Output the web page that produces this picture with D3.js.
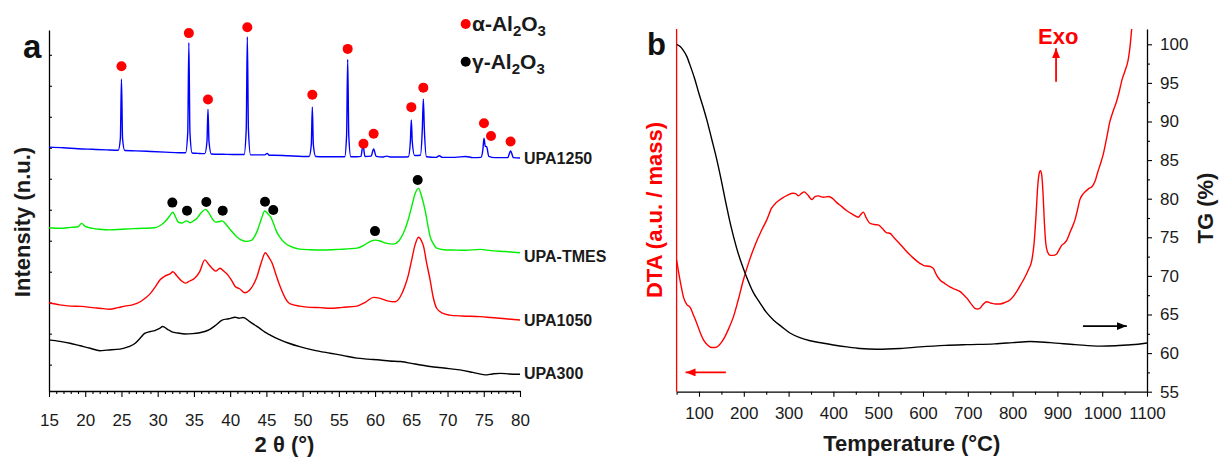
<!DOCTYPE html>
<html><head><meta charset="utf-8">
<script src="https://cdn.jsdelivr.net/npm/d3@7"></script>
<style>
body{margin:0;background:#fff;}
svg{display:block;font-family:"Liberation Sans",Arial,sans-serif;}
</style></head><body>
<svg id="c" width="1220" height="457"></svg>
<script>
// ---------- Panel a : XRD ----------
const xrdUPA1250 = [[15,7.02],[17,7.00],[19,6.97],[21,6.95],[23,6.93],
 [24.55,6.92],[24.85,7.3],[25.0,9.22],[25.15,7.3],[25.45,6.91],
 [27,6.90],[29,6.88],[31,6.86],[33,6.84],
 [33.85,6.84],[34.15,7.5],[34.3,10.39],[34.45,7.5],[34.75,6.83],
 [35.5,6.82],[36.5,6.81],[36.8,7.2],[36.94,8.24],[37.08,7.2],[37.4,6.80],
 [39,6.79],[41,6.78],[41.92,6.78],[42.22,7.6],[42.37,10.58],[42.52,7.6],[42.82,6.77],
 [44,6.77],[44.8,6.77],[45.1,6.82],[45.4,6.76],[46,6.76],[48,6.74],[50,6.72],
 [50.9,6.72],[51.2,7.1],[51.34,8.31],[51.48,7.1],[51.8,6.72],
 [53,6.71],[55,6.71],[55.8,6.71],[56.07,7.4],[56.22,9.85],[56.37,7.4],[56.65,6.71],
 [57.5,6.71],[58.05,6.72],[58.33,7.09],[58.6,6.72],[59.45,6.73],[59.8,6.96],[60.15,6.72],
 [61,6.70],[61.6,6.73],[62.2,6.70],[64,6.70],
 [64.6,6.71],[64.87,7.2],[65.0,7.90],[65.13,7.2],[65.45,6.75],[66.25,6.76],[66.52,7.6],[66.66,8.57],[66.8,7.6],[67.1,6.71],
 [68.4,6.69],[68.86,6.74],[69.3,6.69],[71,6.69],[72.5,6.72],[73.5,6.68],
 [74.6,6.69],[74.88,6.95],[75.03,7.31],[75.2,7.05],[75.4,7.03],[75.7,6.72],[76.5,6.68],
 [78.3,6.68],[78.7,6.90],[79.1,6.68],[80,6.67]];

const xrdUPATMES = [[15,4.42],[16.5,4.40],[18,4.43],[19,4.45],[19.5,4.56],[20,4.46],[21,4.40],[22,4.37],[23.4,4.35],[25,4.37],[26.6,4.39],[28,4.40],[29.6,4.42],[30.4,4.50],[31.0,4.61],[31.6,4.78],[32.07,4.92],[32.5,4.75],[32.8,4.61],[33.3,4.57],[34.0,4.64],[34.46,4.58],[35.0,4.65],[35.4,4.72],[36.0,4.90],[36.6,5.01],[37.1,4.88],[37.5,4.72],[38.0,4.60],[38.5,4.62],[38.9,4.64],[39.3,4.56],[39.7,4.45],[40.3,4.28],[40.9,4.13],[41.5,4.03],[42.2,3.98],[43.0,4.02],[43.4,4.15],[43.8,4.35],[44.3,4.70],[44.77,4.96],[45.2,4.87],[45.6,4.76],[46.0,4.55],[46.3,4.35],[46.9,4.10],[47.6,3.92],[48.5,3.80],[49.6,3.73],[51,3.71],[52.9,3.70],[55,3.72],[57.5,3.76],[58.5,3.86],[59.3,3.97],[60.0,4.02],[60.7,3.99],[61.5,3.92],[62.5,3.89],[63.3,4.0],[63.9,4.24],[64.5,4.62],[65.05,5.10],[65.5,5.50],[66.0,5.69],[66.4,5.45],[66.9,4.99],[67.3,4.48],[67.6,4.13],[68.0,3.92],[68.5,3.76],[69.5,3.71],[70.8,3.70],[72.5,3.69],[74.5,3.72],[76,3.68],[78,3.65],[80,3.61]];

const xrdUPA1050 = [[15,2.00],[16.5,1.93],[17.9,1.89],[19.5,1.88],[21,1.84],[22,1.82],[23.4,1.79],[24.5,1.84],[25.5,1.89],[26.5,1.93],[27.6,2.03],[28.3,2.15],[29.0,2.30],[29.7,2.52],[30.3,2.73],[31.0,2.86],[31.7,2.93],[32.1,3.00],[32.6,2.88],[33.2,2.72],[33.8,2.63],[34.4,2.70],[35.1,2.79],[35.8,3.00],[36.5,3.38],[37.0,3.25],[37.5,3.11],[38.0,3.02],[38.6,3.11],[39.1,3.02],[39.7,2.89],[40.2,2.72],[40.7,2.52],[41.3,2.45],[42.0,2.32],[42.7,2.41],[43.2,2.58],[43.7,2.84],[44.3,3.30],[44.85,3.61],[45.3,3.48],[45.8,3.27],[46.3,2.92],[46.9,2.52],[47.6,2.15],[48.3,1.96],[49.6,1.89],[51,1.85],[52.5,1.84],[53.8,1.82],[55.5,1.85],[57.5,1.89],[58.7,2.02],[59.8,2.17],[60.7,2.14],[61.7,2.06],[62.75,2.03],[63.5,2.20],[64.1,2.52],[64.6,2.90],[65.05,3.38],[65.5,3.85],[66.0,4.11],[66.4,4.00],[66.7,3.81],[67.1,3.30],[67.6,2.73],[68.0,2.20],[68.5,1.82],[69.3,1.66],[70.3,1.60],[72,1.57],[74.5,1.55],[76,1.52],[78,1.48],[80,1.44]];

const xrdUPA300 = [[15,0.80],[16.5,0.75],[17.9,0.69],[19.3,0.61],[20.7,0.53],[22,0.45],[23,0.47],[24.8,0.50],[26,0.58],[26.9,0.69],[27.6,0.86],[28.2,1.01],[29.0,1.07],[29.6,1.10],[30.2,1.16],[30.7,1.23],[31.3,1.15],[31.97,1.06],[32.8,1.02],[33.8,0.99],[34.8,1.00],[35.8,1.03],[36.5,1.07],[37.2,1.14],[38.0,1.27],[38.9,1.44],[39.8,1.48],[40.7,1.53],[41.2,1.50],[41.8,1.52],[42.7,1.39],[43.4,1.28],[44.1,1.17],[44.8,1.05],[45.5,0.96],[46.2,0.87],[46.9,0.80],[48,0.70],[49.6,0.58],[51.5,0.47],[53.8,0.37],[55.5,0.30],[57.5,0.21],[59,0.18],[60.7,0.15],[62,0.12],[63.5,0.10],[65.5,0.02],[67.6,-0.06],[69.5,-0.11],[71.7,-0.17],[73.5,-0.25],[75.2,-0.33],[76.2,-0.30],[77.3,-0.28],[78.5,-0.30],[80,-0.31]];

const alphaMarks = [[25.0,9.63],[34.3,10.70],[36.94,8.56],[42.37,10.89],[51.34,8.71],[56.22,10.19],[58.4,7.13],[59.8,7.45],[65.0,8.31],[66.66,8.94],[75.03,7.79],[76.0,7.38],[78.7,7.20]];
const gammaMarks = [[32.02,5.23],[34.05,4.97],[36.71,5.25],[38.97,4.97],[44.81,5.26],[45.95,4.99],[59.99,4.31],[65.88,5.96]];

const xrdNames = ["UPA1250","UPA-TMES","UPA1050","UPA300"];
const xrdColors = ["#0000ff","#00ee00","#ff0000","#000000"];
const xrdLabelAt = [6.65,3.51,1.42,-0.27];
const xTicksA = [15,20,25,30,35,40,45,50,55,60,65,70,75,80];
const yTicksA = [0,1,2,3,4,5,6,7,8,9,10];

// ---------- Panel b : DTA / TG ----------
const dtaData = [[50,36.3],[58,30.5],[66,25.8],[73,24.0],[80,23.3],[88,21.0],[95,18.9],[103,16.2],[110,14.3],[119,12.9],[128,12.2],[136,12.2],[143,12.6],[150,13.6],[158,15.2],[167,17.6],[177,20.7],[188,25.5],[199,30.8],[212,36.0],[225,40.4],[240,44.6],[251,47.3],[262,50.6],[273,52.2],[285,53.3],[298,54.2],[310,54.7],[316,54.6],[322,54.0],[328,54.6],[335,55.1],[343,54.2],[352,53.0],[359,53.8],[366,54.0],[378,53.6],[389,53.8],[398,53.3],[407,52.2],[418,51.1],[430,49.9],[443,48.9],[456,48.1],[462,49.0],[467,49.5],[473,48.0],[482,46.4],[491,46.1],[500,46.0],[510,44.9],[519,43.8],[526,43.7],[535,42.5],[545,41.2],[556,39.7],[564,38.6],[578,36.9],[593,35.4],[604,34.7],[612,34.6],[618,34.4],[623,34.0],[630,32.2],[638,30.8],[649,29.8],[660,28.9],[672,28.2],[683,27.6],[690,26.8],[698,25.8],[707,24.3],[716,23.0],[722,22.8],[727,23.0],[735,24.2],[742,24.8],[753,24.4],[762,24.2],[772,24.2],[783,24.6],[794,25.3],[803,26.5],[809,27.6],[818,29.5],[828,31.7],[836,33.8],[843,36.3],[848,41.0],[852,48.0],[856,56.5],[859,60.0],[862,60.9],[865,59.8],[868,54.5],[871,46.5],[874,41.0],[878,38.5],[884,37.6],[890,37.6],[898,37.9],[904,39.2],[910,40.4],[916,41.0],[921,41.8],[930,44.5],[939,47.3],[945,50.2],[950,52.9],[956,54.3],[962,55.1],[970,56.0],[977,56.5],[984,58.0],[990,60.5],[996,62.8],[1002,65.3],[1010,70.0],[1017,74.4],[1024,77.2],[1032,80.0],[1038,82.7],[1044,85.9],[1051,88.5],[1058,91.5],[1062,95.0],[1066,100.2],[1072,106],[1080,114]];

const tgData = [[50,100],[58,99.7],[65,99.2],[73,98.4],[80,97.3],[90,95.6],[100,93.6],[108,92.1],[117,90.3],[128,87.8],[140,85.0],[149,82.6],[158,80.0],[171,76.5],[184,73.6],[195,71.6],[206,69.9],[220,68.0],[236,66.5],[250,65.3],[266,64.3],[285,63.4],[303,62.6],[325,62.0],[348,61.6],[375,61.3],[400,61.05],[430,60.8],[459,60.6],[497,60.5],[549,60.6],[593,60.8],[650,61.0],[698,61.1],[760,61.2],[800,61.35],[839,61.5],[884,61.35],[940,61.1],[995,60.9],[1030,60.95],[1055,61.05],[1080,61.15],[1100,61.3]];

const xTicksB = [100,200,300,400,500,600,700,800,900,1000,1100];
const xMinorB = [50,150,250,350,450,550,650,750,850,950,1050];
const yTicksTG = [55,60,65,70,75,80,85,90,95,100];
const yMinorTG = [57.5,62.5,67.5,72.5,77.5,82.5,87.5,92.5,97.5];

// ---------- drawing ----------
const svg = d3.select("#c");
const FONT = '"Liberation Sans",Arial,sans-serif';

const xA = d3.scaleLinear([15,80],[49,520]);
const yA = d3.scaleLinear([-0.85,10.8],[391,30]);
const xB = d3.scaleLinear([50,1100],[676.6,1147]);
const yTG = d3.scaleLinear([55,101.98],[391.7,29]);
const yDTA = d3.scaleLinear([0,100],[391.7,29]);

function styleAxis(g, size){
  g.selectAll("path.domain").attr("stroke","#000").attr("stroke-width",1.3);
  g.selectAll(".tick line").attr("stroke","#000").attr("stroke-width",1.1);
  g.selectAll("text").attr("font-family",FONT).attr("font-size",size||17).attr("fill","#1a1a1a");
}

// ---- Panel a axes
const gxA = svg.append("g").attr("transform","translate(0,391)")
  .call(d3.axisBottom(xA).tickValues(xTicksA).tickSize(6).tickSizeOuter(0).tickPadding(17).tickFormat(d3.format("d")));
styleAxis(gxA);
const gxAm = svg.append("g").attr("transform","translate(0,391)")
  .call(d3.axisBottom(xA).tickValues(d3.range(15,81,1).filter(v=>v%5)).tickSize(3).tickSizeOuter(0).tickFormat(""));
styleAxis(gxAm); gxAm.select("path.domain").remove();
const gyA = svg.append("g").attr("transform","translate(49,0)")
  .call(d3.axisLeft(yA).tickValues(yTicksA).tickSize(-3).tickSizeOuter(0).tickFormat(""));
styleAxis(gyA);

// ---- Panel a curves
const lineA = d3.line().x(d=>xA(d[0])).y(d=>yA(d[1])).curve(d3.curveMonotoneX);
const seriesA = [xrdUPA1250, xrdUPATMES, xrdUPA1050, xrdUPA300];
seriesA.forEach((s,i)=>{
  svg.append("path").datum(s).attr("d",lineA).attr("fill","none")
    .attr("stroke",xrdColors[i]).attr("stroke-width",1.4).attr("stroke-linejoin","round");
  svg.append("text").attr("x",xA(80)+4).attr("y",yA(xrdLabelAt[i])).attr("dy","0.36em")
    .attr("font-family",FONT).attr("font-weight","bold").attr("font-size",16).attr("fill","#1a1a1a")
    .text(xrdNames[i]);
});
svg.append("g").selectAll("circle").data(alphaMarks).join("circle")
  .attr("cx",d=>xA(d[0])).attr("cy",d=>yA(d[1])).attr("r",5).attr("fill","#ff0000");
svg.append("g").selectAll("circle").data(gammaMarks).join("circle")
  .attr("cx",d=>xA(d[0])).attr("cy",d=>yA(d[1])).attr("r",5).attr("fill","#000");

// legend
const legend = [["α-Al","#ff0000",24],["γ-Al","#000",61.7]];
legend.forEach(l=>{
  svg.append("circle").attr("cx",465.7).attr("cy",l[2]).attr("r",5).attr("fill",l[1]);
  const t = svg.append("text").attr("x",472).attr("y",l[2]+7)
    .attr("font-family",FONT).attr("font-weight","bold").attr("font-size",21).attr("fill","#1a1a1a");
  t.append("tspan").text(l[0]);
  t.append("tspan").attr("font-size",15).attr("dy",5).text("2");
  t.append("tspan").attr("dy",-5).text("O");
  t.append("tspan").attr("font-size",15).attr("dy",5).text("3");
});

// titles a
svg.append("text").attr("x",23).attr("y",58).attr("font-family",FONT).attr("font-weight","bold")
  .attr("font-size",33).attr("fill","#111").text("a");
svg.append("text").attr("transform","translate(29.5,222) rotate(-90)").attr("text-anchor","middle")
  .attr("font-family",FONT).attr("font-weight","bold").attr("font-size",22).attr("fill","#1a1a1a")
  .text("Intensity (n.u.)");
svg.append("text").attr("x",284.5).attr("y",451.5).attr("text-anchor","middle")
  .attr("font-family",FONT).attr("font-weight","bold").attr("font-size",22).attr("fill","#1a1a1a")
  .text("2 θ (°)");

// ---- Panel b axes
const gxB = svg.append("g").attr("transform","translate(0,391.7)")
  .call(d3.axisBottom(xB).tickValues(xTicksB).tickSize(5).tickSizeOuter(0).tickPadding(10.5).tickFormat(d3.format("d")));
styleAxis(gxB);
const gxBm = svg.append("g").attr("transform","translate(0,391.7)")
  .call(d3.axisBottom(xB).tickValues(xMinorB).tickSize(3).tickSizeOuter(0).tickFormat(""));
styleAxis(gxBm); gxBm.select("path.domain").remove();
const gyB = svg.append("g").attr("transform","translate(1147,0)")
  .call(d3.axisRight(yTG).tickValues(yTicksTG).tickSize(5).tickSizeOuter(0).tickPadding(8).tickFormat(d3.format("d")));
styleAxis(gyB);
const gyBm = svg.append("g").attr("transform","translate(1147,0)")
  .call(d3.axisRight(yTG).tickValues(yMinorTG).tickSize(3).tickSizeOuter(0).tickFormat(""));
styleAxis(gyBm); gyBm.select("path.domain").remove();
svg.append("line").attr("x1",xB(50)).attr("x2",xB(50)).attr("y1",yDTA.range()[0]).attr("y2",yDTA.range()[1])
  .attr("stroke","#ff0000").attr("stroke-width",1.3);

svg.append("clipPath").attr("id","clipB").append("rect")
  .attr("x",xB(50)).attr("y",yTG(101.98)).attr("width",xB(1100)-xB(50)).attr("height",yTG(55)-yTG(101.98));

const lineDTA = d3.line().x(d=>xB(d[0])).y(d=>yDTA(d[1])).curve(d3.curveMonotoneX);
const lineTG = d3.line().x(d=>xB(d[0])).y(d=>yTG(d[1])).curve(d3.curveMonotoneX);
svg.append("path").datum(dtaData).attr("d",lineDTA).attr("fill","none").attr("stroke","#ff0000")
  .attr("stroke-width",1.4).attr("clip-path","url(#clipB)");
svg.append("path").datum(tgData).attr("d",lineTG).attr("fill","none").attr("stroke","#000")
  .attr("stroke-width",1.4).attr("clip-path","url(#clipB)");

// arrows
const defs = svg.append("defs");
[["ahR","#ff0000"],["ahK","#000"]].forEach(a=>{
  defs.append("marker").attr("id",a[0]).attr("viewBox","0 0 10 8").attr("refX",10).attr("refY",4)
    .attr("markerWidth",10).attr("markerHeight",8).attr("markerUnits","userSpaceOnUse").attr("orient","auto")
    .append("path").attr("d","M0,0 L10,4 L0,8 Z").attr("fill",a[1]);
});
function arrow(x1,y1,x2,y2,color,mk){
  svg.append("line").attr("x1",x1).attr("y1",y1).attr("x2",x2).attr("y2",y2)
    .attr("stroke",color).attr("stroke-width",1.8).attr("marker-end",`url(#${mk})`);
}
arrow(xB(160),yTG(57.5),xB(70),yTG(57.5),"#ff0000","ahR");
arrow(xB(957),yTG(63.5),xB(1055),yTG(63.5),"#000","ahK");
arrow(xB(897),yTG(95.15),xB(897),yTG(99.5),"#ff0000","ahR");
svg.append("text").attr("x",xB(902)).attr("y",yTG(100.1)).attr("text-anchor","middle")
  .attr("font-family",FONT).attr("font-weight","bold").attr("font-size",22).attr("fill","#ff0000").text("Exo");

// titles b
svg.append("text").attr("x",647).attr("y",55).attr("font-family",FONT).attr("font-weight","bold")
  .attr("font-size",31).attr("fill","#111").text("b");
svg.append("text").attr("transform","translate(661.5,210) rotate(-90)").attr("text-anchor","middle")
  .attr("font-family",FONT).attr("font-weight","bold").attr("font-size",22).attr("fill","#ff0000")
  .text("DTA (a.u. / mass)");
svg.append("text").attr("transform","translate(1213,208) rotate(-90)").attr("text-anchor","middle")
  .attr("font-family",FONT).attr("font-weight","bold").attr("font-size",22).attr("fill","#1a1a1a")
  .text("TG (%)");
svg.append("text").attr("x",911.8).attr("y",450.5).attr("text-anchor","middle")
  .attr("font-family",FONT).attr("font-weight","bold").attr("font-size",22).attr("fill","#1a1a1a")
  .text("Temperature (°C)");
</script>
</body></html>
